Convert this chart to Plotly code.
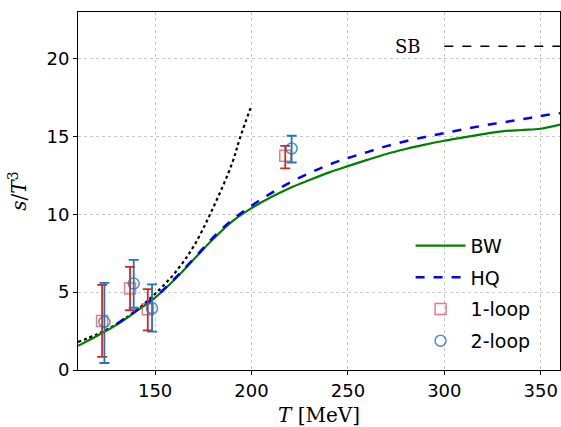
import plotly.graph_objects as go

# BW curve
T_bw = [110, 120, 130, 140, 150, 160, 170, 180, 190, 200, 210, 220, 230, 240, 250,
        260, 270, 280, 290, 300, 310, 320, 330, 340, 350, 360]
s_bw = [1.55, 2.2, 2.9, 3.75, 4.65, 5.8, 7.1, 8.4, 9.55, 10.4, 11.1, 11.7, 12.2, 12.68, 13.1,
        13.5, 13.88, 14.2, 14.48, 14.73, 14.95, 15.15, 15.33, 15.42, 15.5, 15.76]

# HQ curve
T_hq = [130, 140, 150, 160, 170, 180, 190, 200, 210, 220, 230, 240, 250, 260, 270,
        280, 290, 300, 310, 320, 330, 340, 350, 360]
s_hq = [2.95, 3.8, 4.7, 5.85, 7.15, 8.5, 9.65, 10.55, 11.35, 12.05, 12.65, 13.18, 13.62, 14.0, 14.38,
        14.7, 14.97, 15.22, 15.46, 15.7, 15.9, 16.1, 16.32, 16.5]

# dotted curve
T_dot = [110, 120, 130, 140, 150, 160, 170, 180, 190, 194, 200]
s_dot = [1.8, 2.3, 2.95, 3.8, 4.9, 6.2, 7.95, 10.4, 13.3, 14.9, 17.0]

# SB limit
T_sb = [300, 360]
s_sb = [20.8, 20.8]

# 1-loop points
T_1 = [122.5, 137.0, 146.2, 217.5]
s_1 = [3.15, 5.23, 3.9, 13.76]
up_1 = [5.47, 6.62, 5.19, 14.4]
lo_1 = [0.84, 3.84, 2.55, 12.95]

# 2-loop points
T_2 = [123.7, 138.9, 148.4, 220.8]
s_2 = [3.09, 5.55, 3.97, 14.23]
up_2 = [5.6, 7.07, 5.5, 15.05]
lo_2 = [0.45, 4.0, 2.46, 13.33]

fig = go.Figure()

fig.add_trace(go.Scatter(x=T_dot, y=s_dot, mode="lines", line=dict(color="black", width=2.2, dash="dot"),
                         line_shape="spline", showlegend=False))
fig.add_trace(go.Scatter(x=T_sb, y=s_sb, mode="lines", line=dict(color="black", width=1.5, dash="dash"),
                         showlegend=False))
fig.add_trace(go.Scatter(x=T_bw, y=s_bw, mode="lines", name="BW", line=dict(color="green", width=2.2),
                         line_shape="spline", legendgroup="a"))
fig.add_trace(go.Scatter(x=T_hq, y=s_hq, mode="lines", name="HQ", line=dict(color="blue", width=2.5, dash="dash"),
                         line_shape="spline", legendgroup="b"))

fig.add_trace(go.Scatter(
    x=T_1, y=s_1, mode="markers", name="1-loop", legendgroup="c",
    marker=dict(symbol="square-open", size=11, color="rgba(214,39,40,0.6)", line=dict(width=1.5)),
    error_y=dict(type="data", symmetric=False,
                 array=[u - v for u, v in zip(up_1, s_1)],
                 arrayminus=[v - l for v, l in zip(s_1, lo_1)],
                 color="#d62728", thickness=1.8, width=5)))
fig.add_trace(go.Scatter(
    x=T_2, y=s_2, mode="markers", name="2-loop", legendgroup="d",
    marker=dict(symbol="circle-open", size=11, color="rgba(31,119,180,0.8)", line=dict(width=1.5)),
    error_y=dict(type="data", symmetric=False,
                 array=[u - v for u, v in zip(up_2, s_2)],
                 arrayminus=[v - l for v, l in zip(s_2, lo_2)],
                 color="#1f77b4", thickness=1.8, width=5)))

fig.add_annotation(x=281, y=20.8, text="SB", showarrow=False, xref="x", yref="y",
                   font=dict(family="DejaVu Serif", size=18, color="black"))

axis_common = dict(showline=True, linecolor="black", linewidth=1, mirror=True,
                   ticks="outside", ticklen=4, tickcolor="black",
                   showgrid=True, gridcolor="#c8c8c8", griddash="dot", gridwidth=1,
                   zeroline=False, tickfont=dict(family="DejaVu Sans", size=18, color="black"))

fig.update_xaxes(range=[110, 360], tickvals=[150, 200, 250, 300, 350],
                 title=dict(text="<i>T</i> [MeV]", font=dict(family="DejaVu Serif", size=20, color="black"),
                            standoff=12),
                 **axis_common)
fig.update_yaxes(range=[0, 23], tickvals=[0, 5, 10, 15, 20],
                 title=dict(text="<i>s</i>/<i>T</i><sup>3</sup>", font=dict(family="DejaVu Serif", size=20, color="black"),
                            standoff=14),
                 **axis_common)

fig.update_layout(
    width=561, height=427,
    margin=dict(l=78, r=1, t=12, b=57),
    plot_bgcolor="white", paper_bgcolor="white",
    legend=dict(x=0.69, y=0.40, xanchor="left", yanchor="top", bgcolor="rgba(0,0,0,0)",
                font=dict(family="DejaVu Sans", size=19, color="black"), tracegroupgap=4,
                itemwidth=50),
)

fig.write_html("out.html", config={"displayModeBar": False},
               post_script="document.body.style.margin='0';document.body.style.overflow='hidden';")
